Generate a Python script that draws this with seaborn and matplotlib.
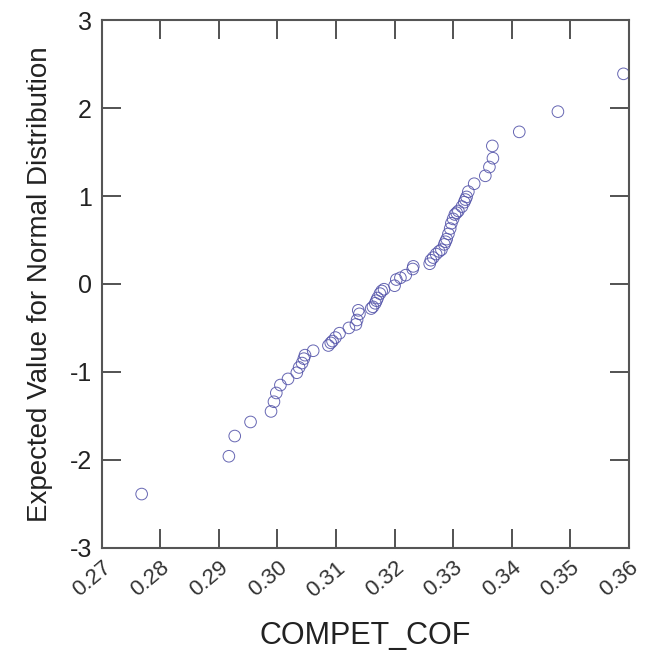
import matplotlib
matplotlib.use("Agg")
import matplotlib.pyplot as plt
import seaborn as sns
import pandas as pd

# Values
compet_cof = [
    0.2768, 0.2917, 0.2927, 0.2954, 0.2989, 0.2994, 0.2998, 0.3005, 0.3018,
    0.3033, 0.3037, 0.3042, 0.3045, 0.3047, 0.3061, 0.3087, 0.3091, 0.3094,
    0.3099, 0.3106, 0.3122, 0.3134, 0.3136, 0.3140, 0.3138, 0.3160, 0.3163,
    0.3167, 0.3169, 0.3171, 0.3175, 0.3178, 0.3182, 0.3200, 0.3203, 0.3210,
    0.3219, 0.3231, 0.3232, 0.3260, 0.3262, 0.3266, 0.3271, 0.3276, 0.3280,
    0.3285, 0.3287, 0.3289, 0.3292, 0.3295, 0.3297, 0.3300, 0.3303, 0.3306,
    0.3309, 0.3315, 0.3319, 0.3321, 0.3323, 0.3326, 0.3336, 0.3355, 0.3362,
    0.3368, 0.3367, 0.3413, 0.3479, 0.3591,
]
expected_normal = [
    -2.39, -1.96, -1.73, -1.57, -1.45, -1.34, -1.24, -1.15, -1.08,
    -1.01, -0.95, -0.90, -0.85, -0.81, -0.76, -0.70, -0.67, -0.65,
    -0.61, -0.56, -0.50, -0.46, -0.41, -0.34, -0.30, -0.28, -0.26,
    -0.22, -0.19, -0.16, -0.11, -0.08, -0.06, -0.02, 0.05, 0.07,
    0.10, 0.17, 0.20, 0.23, 0.27, 0.30, 0.34, 0.37, 0.39,
    0.45, 0.48, 0.51, 0.57, 0.63, 0.69, 0.74, 0.79, 0.81,
    0.83, 0.88, 0.93, 0.96, 0.99, 1.05, 1.14, 1.23, 1.33,
    1.43, 1.57, 1.73, 1.96, 2.39,
]
x_ticks = [0.27, 0.28, 0.29, 0.30, 0.31, 0.32, 0.33, 0.34, 0.35, 0.36]
y_ticks = [-3, -2, -1, 0, 1, 2, 3]

df = pd.DataFrame({"COMPET_COF": compet_cof, "expected": expected_normal})

sns.set_style("ticks")
plt.rcParams["font.family"] = ["Liberation Sans", "DejaVu Sans"]

fig = plt.figure(figsize=(6.57, 6.52), dpi=100)
ax = fig.add_axes([0.155, 0.160, 0.802, 0.809])

sns.scatterplot(
    data=df,
    x="COMPET_COF",
    y="expected",
    ax=ax,
    marker="o",
    s=70,
    facecolors="none",
    edgecolor="#5555aa",
    linewidth=0.7,
    alpha=0.9,
)

ax.set_xlim(0.27, 0.36)
ax.set_ylim(-3, 3)
ax.set_xticks(x_ticks)
ax.set_xticklabels([f"{t:.2f}" for t in x_ticks], rotation=40, ha="right",
                   rotation_mode="anchor", fontsize=16, color="#333333")
ax.set_yticks(y_ticks)
ax.set_yticklabels([str(t) for t in y_ticks], fontsize=18, color="#222222")
ax.tick_params(direction="in", length=14, width=1.3, color="#444444",
               top=True, right=True, pad=7)
for side in ax.spines.values():
    side.set_color("#555555")
    side.set_linewidth(1.5)
ax.set_xlabel("COMPET_COF", fontsize=22, color="#222222", labelpad=14)
ax.set_ylabel("Expected Value for Normal Distribution", fontsize=20,
              color="#222222", labelpad=12)

fig.savefig("out.png", dpi=100)
